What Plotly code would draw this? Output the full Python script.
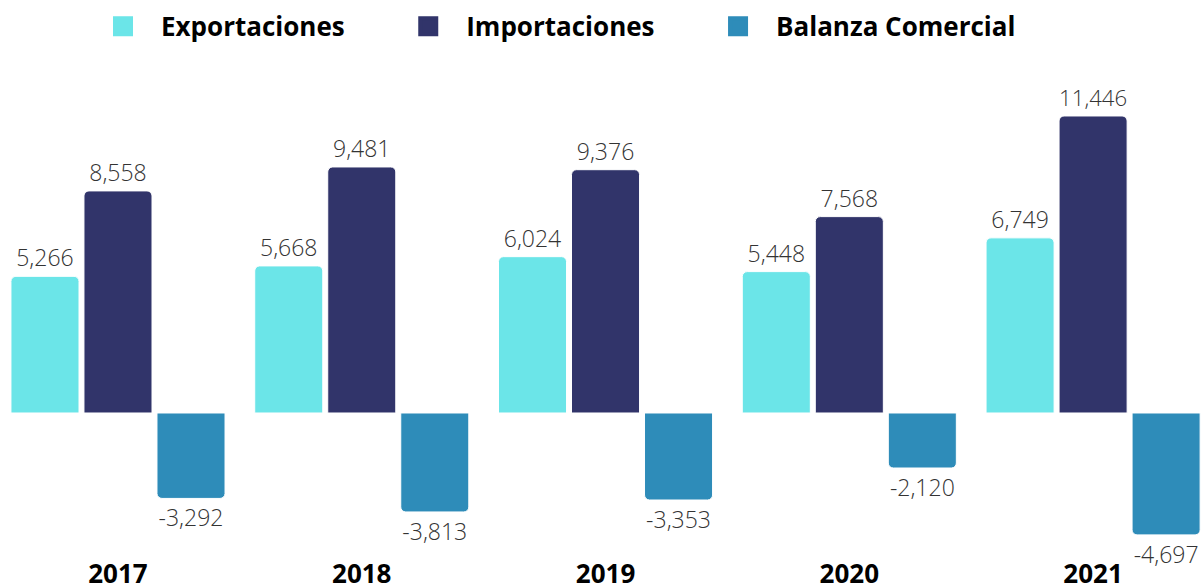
import plotly.graph_objects as go

years = ["2017", "2018", "2019", "2020", "2021"]
exportaciones = [5266, 5668, 6024, 5448, 6749]
importaciones = [8558, 9481, 9376, 7568, 11446]
balanza = [-3292, -3813, -3353, -2120, -4697]

colors = {
    'exp': '#6BE5E8',
    'imp': '#31346A',
    'bal': '#2E8CB9',
    'text': '#333333'
}

series = [
    ("Exportaciones", exportaciones, colors['exp']),
    ("Importaciones", importaciones, colors['imp']),
    ("Balanza Comercial", balanza, colors['bal']),
]

pad = "\u00a0" * 6  # spacing between legend entries

fig = go.Figure()
for name, vals, col in series:
    fig.add_trace(go.Bar(x=years, y=vals, name=name,
                         marker=dict(color=col, line=dict(color='white', width=1)),
                         text=[f"{v:,}" for v in vals],
                         textposition='outside',
                         textfont=dict(family="Open Sans", size=23, color=colors['text'], weight=300),
                         cliponaxis=False,
                         showlegend=False))
    # legend entry with a bigger square
    fig.add_trace(go.Scatter(x=[None], y=[None], mode='markers', name=name + pad,
                             marker=dict(symbol='square', size=16, color=col,
                                         line=dict(color=col, width=4))))

fig.update_layout(
    width=1204, height=586,
    margin=dict(l=0, r=0, t=60, b=41),
    barmode='group', bargap=0.1015, bargroupgap=0.068,
    barcornerradius=5,
    plot_bgcolor='white', paper_bgcolor='white',
    legend=dict(orientation='h', x=85 / 1204, xanchor='left', y=0.995, yanchor='top',
                yref='container',
                font=dict(family="Open Sans", size=26, color='black', weight='bold'),
                itemwidth=66),
    xaxis=dict(range=[-0.484, 4.455], showgrid=False, zeroline=False, showline=False,
               tickfont=dict(family="Open Sans", size=26, color='black', weight='bold'),
               ticks='', ticklabelstandoff=11, automargin=False),
    yaxis=dict(range=[-5087, 13603], visible=False, showgrid=False, zeroline=False),
)

fig.write_html("out.html", config={'displayModeBar': False},
               post_script="document.body.style.margin='0';")
